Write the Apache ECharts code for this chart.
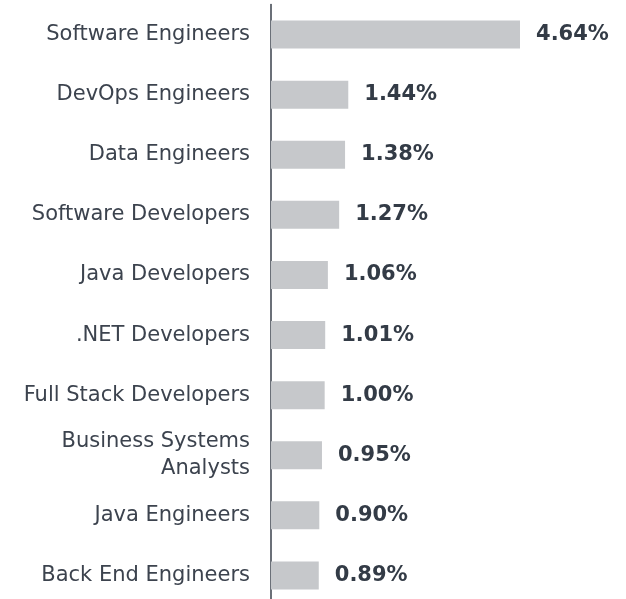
<!DOCTYPE html>
<html>
<head>
<meta charset="utf-8">
<script src="https://cdn.jsdelivr.net/npm/echarts@6/dist/echarts.min.js"></script>
<style>
html,body{margin:0;padding:0;background:#fff;}
#chart{width:626px;height:599px;}
</style>
</head>
<body>
<div id="chart"></div>
<script>
const categories = [
  "Software Engineers",
  "DevOps Engineers",
  "Data Engineers",
  "Software Developers",
  "Java Developers",
  ".NET Developers",
  "Full Stack Developers",
  "Business Systems\nAnalysts",
  "Java Engineers",
  "Back End Engineers"
];
const values = [4.64, 1.44, 1.38, 1.27, 1.06, 1.01, 1.00, 0.95, 0.90, 0.89];

const chart = echarts.init(document.getElementById('chart'), null, {renderer: 'canvas'});
chart.setOption({
  animation: false,
  backgroundColor: '#ffffff',
  grid: {left: 271, right: 33, top: 4.5, height: 601, containLabel: false, outerBoundsMode: 'none'},
  xAxis: {
    type: 'value', min: 0, max: 6,
    show: false
  },
  yAxis: {
    type: 'category',
    data: categories,
    inverse: true,
    axisLine: {show: true, lineStyle: {color: '#3a404b', width: 1.5}},
    axisTick: {show: false},
    axisLabel: {
      margin: 21,
      color: '#3c434e',
      fontFamily: 'DejaVu Sans',
      fontSize: 21,
      lineHeight: 27,
      align: 'right'
    }
  },
  series: [{
    type: 'bar',
    data: values,
    barWidth: 28,
    itemStyle: {color: '#c6c8cb'},
    label: {
      show: true,
      position: 'right',
      distance: 16,
      formatter: p => p.value.toFixed(2) + '%',
      color: '#333b46',
      fontFamily: 'DejaVu Sans',
      fontWeight: 'bold',
      fontSize: 21
    }
  }]
});
</script>
</body>
</html>
